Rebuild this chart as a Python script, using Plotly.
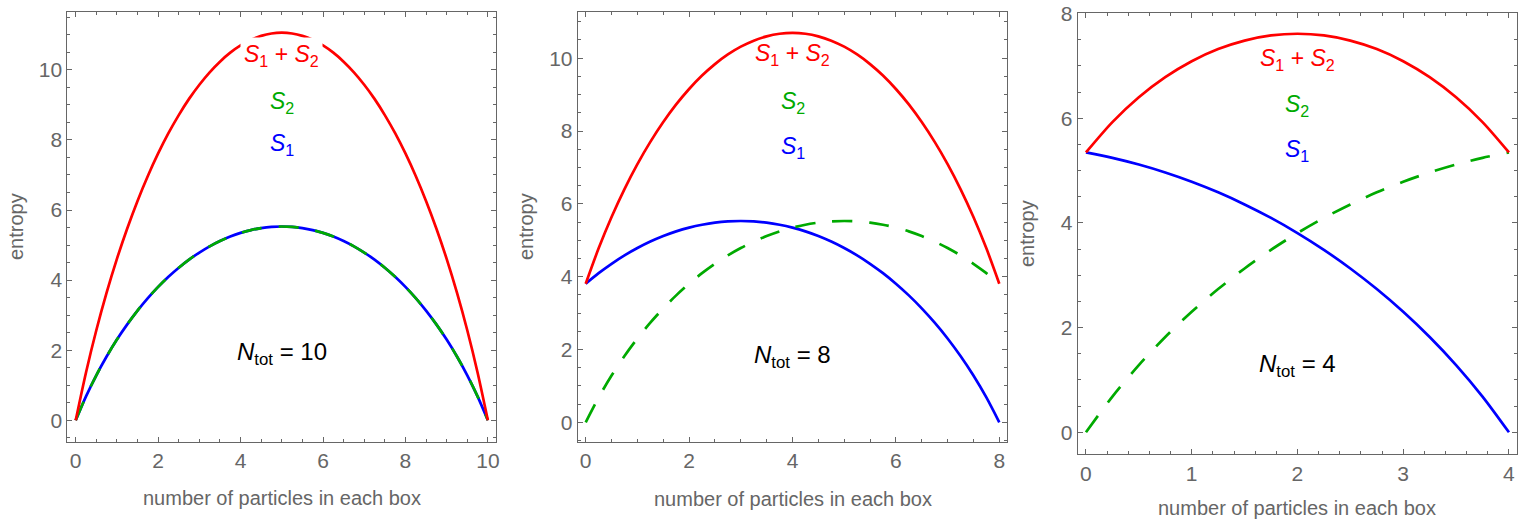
import plotly.graph_objects as go

W, H = 1520, 528

# ---------------- data ----------------
# Panel 1: N_tot = 10
n10 = [0, 0.25, 0.5, 0.75, 1, 1.25, 1.5, 1.75, 2, 2.25, 2.5, 2.75, 3, 3.25, 3.5, 3.75, 4, 4.25, 4.5, 4.75,
       5, 5.25, 5.5, 5.75, 6, 6.25, 6.5, 6.75, 7, 7.25, 7.5, 7.75, 8, 8.25, 8.5, 8.75, 9, 9.25, 9.5, 9.75, 10]
s1_10 = [0, 0.683, 1.285, 1.821, 2.303, 2.737, 3.130, 3.486, 3.807, 4.096, 4.354, 4.585, 4.787, 4.964, 5.116, 5.244,
         5.347, 5.427, 5.484, 5.518, 5.529, 5.518, 5.484, 5.427, 5.347, 5.244, 5.116, 4.964, 4.787, 4.585, 4.354,
         4.096, 3.807, 3.486, 3.130, 2.737, 2.303, 1.821, 1.285, 0.683, 0]
s2_10 = [0, 0.683, 1.285, 1.821, 2.303, 2.737, 3.130, 3.486, 3.807, 4.096, 4.354, 4.585, 4.787, 4.964, 5.116, 5.244,
         5.347, 5.427, 5.484, 5.518, 5.529, 5.518, 5.484, 5.427, 5.347, 5.244, 5.116, 4.964, 4.787, 4.585, 4.354,
         4.096, 3.807, 3.486, 3.130, 2.737, 2.303, 1.821, 1.285, 0.683, 0]
tot_10 = [0, 1.366, 2.570, 3.642, 4.606, 5.474, 6.260, 6.972, 7.614, 8.192, 8.708, 9.170, 9.574, 9.928, 10.232, 10.488,
          10.694, 10.854, 10.968, 11.036, 11.058, 11.036, 10.968, 10.854, 10.694, 10.488, 10.232, 9.928, 9.574, 9.170,
          8.708, 8.192, 7.614, 6.972, 6.260, 5.474, 4.606, 3.642, 2.570, 1.366, 0]

# Panel 2: N_tot = 8
n8 = [0, 0.25, 0.5, 0.75, 1, 1.25, 1.5, 1.75, 2, 2.25, 2.5, 2.75, 3, 3.25, 3.5, 3.75, 4,
      4.25, 4.5, 4.75, 5, 5.25, 5.5, 5.75, 6, 6.25, 6.5, 6.75, 7, 7.25, 7.5, 7.75, 8]
s1_8 = [3.807, 4.096, 4.354, 4.585, 4.787, 4.964, 5.116, 5.244, 5.347, 5.427, 5.484, 5.518, 5.529, 5.518, 5.484, 5.427,
        5.347, 5.244, 5.116, 4.964, 4.787, 4.585, 4.354, 4.096, 3.807, 3.486, 3.130, 2.737, 2.303, 1.821, 1.285, 0.683, 0]
s2_8 = [0, 0.683, 1.285, 1.821, 2.303, 2.737, 3.130, 3.486, 3.807, 4.096, 4.354, 4.585, 4.787, 4.964, 5.116, 5.244,
        5.347, 5.427, 5.484, 5.518, 5.529, 5.518, 5.484, 5.427, 5.347, 5.244, 5.116, 4.964, 4.787, 4.585, 4.354, 4.096, 3.807]
tot_8 = [3.807, 4.779, 5.639, 6.406, 7.090, 7.701, 8.246, 8.730, 9.154, 9.523, 9.838, 10.103, 10.316, 10.482, 10.600, 10.671,
         10.694, 10.671, 10.600, 10.482, 10.316, 10.103, 9.838, 9.523, 9.154, 8.730, 8.246, 7.701, 7.090, 6.406, 5.639, 4.779, 3.807]

# Panel 3: N_tot = 4
n4 = [0, 0.25, 0.5, 0.75, 1, 1.25, 1.5, 1.75, 2, 2.25, 2.5, 2.75, 3, 3.25, 3.5, 3.75, 4]
s1_4 = [5.347, 5.244, 5.116, 4.964, 4.787, 4.585, 4.354, 4.096, 3.807, 3.486, 3.130, 2.737, 2.303, 1.821, 1.285, 0.683, 0]
s2_4 = [0, 0.683, 1.285, 1.821, 2.303, 2.737, 3.130, 3.486, 3.807, 4.096, 4.354, 4.585, 4.787, 4.964, 5.116, 5.244, 5.347]
tot_4 = [5.347, 5.927, 6.401, 6.785, 7.090, 7.322, 7.484, 7.582, 7.614, 7.582, 7.484, 7.322, 7.090, 6.785, 6.401, 5.927, 5.347]

panel_titles = ["10", "8", "4"]
x_ticks = [[0, 2, 4, 6, 8, 10], [0, 2, 4, 6, 8], [0, 1, 2, 3, 4]]
y_ticks = [[0, 2, 4, 6, 8, 10], [0, 2, 4, 6, 8, 10], [0, 2, 4, 6, 8]]

# ---------------- styling / layout ----------------
RED = "#ff0000"
BLUE = "#0000ff"
GREEN = "#00aa00"
GRAY = "#666666"
FONT = "Liberation Sans, Arial, sans-serif"

def px_x(p):
    return p / W

def px_y(p):
    return 1 - p / H

# frame boxes in pixels: left, right, top, bottom
frames = [(67.3, 495.7, 12.3, 441.7), (577.7, 1007.3, 12.3, 442.0), (1077.7, 1517.0, 13.3, 454.3)]
x_ranges = [[-0.204, 10.19], [-0.155, 8.155], [-0.078, 4.076]]
y_ranges = [[-0.61, 11.64], [-0.54, 11.26], [-0.42, 8.005]]
x_minor = [0.5, 0.5, 0.2]
y_minor = [0.5, 0.5, 0.5]

panels = [
    (n10, s1_10, s2_10, tot_10),
    (n8, s1_8, s2_8, tot_8),
    (n4, s1_4, s2_4, tot_4),
]

fig = go.Figure()
for i, (xs, a, b, c) in enumerate(panels):
    sfx = "" if i == 0 else str(i + 1)
    common = dict(xaxis="x" + sfx, yaxis="y" + sfx, mode="lines", showlegend=False, hoverinfo="skip")
    fig.add_trace(go.Scatter(x=xs, y=a, line=dict(color=BLUE, width=2.7, shape="spline", smoothing=0.8), **common))
    fig.add_trace(go.Scatter(x=xs, y=b, line=dict(color=GREEN, width=2.7, shape="spline", smoothing=0.8, dash="20px,17px"), **common))
    fig.add_trace(go.Scatter(x=xs, y=c, line=dict(color=RED, width=2.7, shape="spline", smoothing=0.8), **common))

layout = dict(
    width=W, height=H,
    margin=dict(l=0, r=0, t=0, b=0, autoexpand=False),
    paper_bgcolor="white", plot_bgcolor="white",
    font=dict(family=FONT, size=20, color=GRAY),
    annotations=[],
)

for i in range(3):
    sfx = "" if i == 0 else str(i + 1)
    L, R, T, B = frames[i]
    axis_common = dict(
        showline=True, linecolor=GRAY, linewidth=1, mirror="allticks",
        ticks="inside", ticklen=5, tickwidth=1, tickcolor=GRAY,
        showgrid=False, zeroline=False, automargin=False,
        tickfont=dict(family=FONT, size=21, color=GRAY),
        fixedrange=True,
    )
    layout["xaxis" + sfx] = dict(
        domain=[px_x(L), px_x(R)], range=x_ranges[i], anchor="y" + sfx,
        tickmode="array", tickvals=x_ticks[i], ticktext=[str(v) for v in x_ticks[i]],
        minor=dict(ticks="inside", ticklen=3, tickcolor=GRAY, dtick=x_minor[i], tick0=0, showgrid=False),
        **axis_common,
    )
    layout["yaxis" + sfx] = dict(
        domain=[px_y(B), px_y(T)], range=y_ranges[i], anchor="x" + sfx,
        tickmode="array", tickvals=y_ticks[i], ticktext=[str(v) for v in y_ticks[i]],
        minor=dict(ticks="inside", ticklen=3, tickcolor=GRAY, dtick=y_minor[i], tick0=0, showgrid=False),
        **axis_common,
    )

ann = layout["annotations"]

# axis titles
ytitle_pos = [(16, 227), (526, 227), (1027, 234)]
xtitle_pos = [(281.5, 498), (792.5, 499), (1297, 508)]
for i in range(3):
    ax, ay = ytitle_pos[i]
    ann.append(dict(text="entropy", x=px_x(ax), y=px_y(ay), xref="paper", yref="paper",
                    showarrow=False, textangle=-90, xanchor="center", yanchor="middle",
                    font=dict(family=FONT, size=20, color=GRAY)))
    bx, by = xtitle_pos[i]
    ann.append(dict(text="number of particles in each box", x=px_x(bx), y=px_y(by), xref="paper", yref="paper",
                    showarrow=False, xanchor="center", yanchor="middle",
                    font=dict(family=FONT, size=20, color=GRAY)))

# curve labels (data coordinates)
label_x = [5, 4, 2]
label_y = [(10.40, 9.07, 7.87), (10.10, 8.79, 7.55), (7.12, 6.25, 5.39)]
label_bg = ["white", "rgba(0,0,0,0)", "rgba(0,0,0,0)"]
label_pad = [3, 0, 0]
ntot_pos = [(5, 1.92), (4, 1.82), (2, 1.27)]
for i in range(3):
    sfx = "" if i == 0 else str(i + 1)
    yt, y2, y1 = label_y[i]
    ann.append(dict(text="<i>S</i><sub>1</sub> + <i>S</i><sub>2</sub>", x=label_x[i], y=yt,
                    xref="x" + sfx, yref="y" + sfx, showarrow=False, bgcolor=label_bg[i], borderpad=label_pad[i],
                    font=dict(family=FONT, size=23, color=RED)))
    ann.append(dict(text="<i>S</i><sub>2</sub>", x=label_x[i], y=y2,
                    xref="x" + sfx, yref="y" + sfx, showarrow=False,
                    font=dict(family=FONT, size=23, color=GREEN)))
    ann.append(dict(text="<i>S</i><sub>1</sub>", x=label_x[i], y=y1,
                    xref="x" + sfx, yref="y" + sfx, showarrow=False,
                    font=dict(family=FONT, size=23, color=BLUE)))
    nx, ny = ntot_pos[i]
    ann.append(dict(text="<i>N</i><sub>tot</sub> = " + panel_titles[i], x=nx, y=ny,
                    xref="x" + sfx, yref="y" + sfx, showarrow=False,
                    font=dict(family=FONT, size=24, color="black")))

fig.update_layout(**layout)
fig.write_html("out.html")
